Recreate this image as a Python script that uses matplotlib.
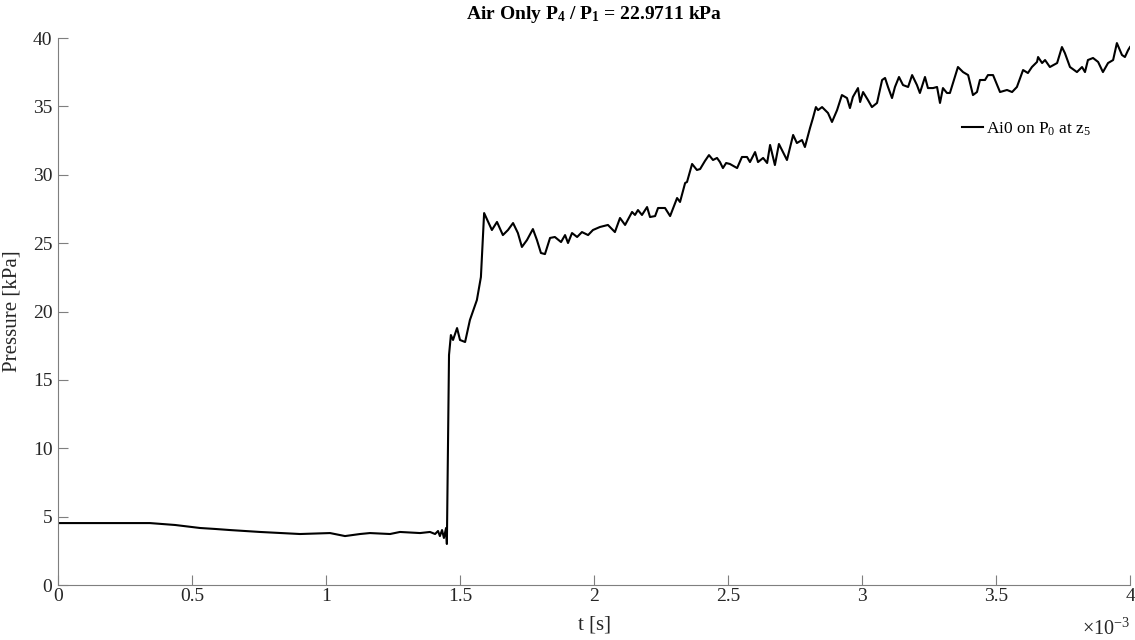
import numpy as np
import matplotlib
matplotlib.use('Agg')
import matplotlib.pyplot as plt

plt.rcParams['font.family'] = ['Liberation Serif', 'DejaVu Serif']
plt.rcParams['mathtext.fontset'] = 'custom'
plt.rcParams['mathtext.rm'] = 'Liberation Serif'
plt.rcParams['mathtext.bf'] = 'Liberation Serif:bold'
plt.rcParams['mathtext.default'] = 'regular'

# time in ms
t_ms = [0.0, 0.231, 0.343, 0.437, 0.530, 0.586, 0.642, 0.754, 0.903, 1.015,
        1.071, 1.127, 1.164, 1.239, 1.276, 1.351, 1.388, 1.407, 1.418, 1.425,
        1.433, 1.440, 1.448, 1.451, 1.459, 1.466, 1.474, 1.489, 1.500, 1.519,
        1.537, 1.563, 1.578, 1.590, 1.619, 1.638, 1.660, 1.679, 1.698, 1.716,
        1.731, 1.750, 1.772, 1.787, 1.802, 1.817, 1.836, 1.854, 1.877, 1.892,
        1.903, 1.918, 1.937, 1.955, 1.978, 1.996, 2.022, 2.052, 2.078, 2.097,
        2.116, 2.142, 2.153, 2.164, 2.179, 2.198, 2.209, 2.228, 2.239, 2.265,
        2.284, 2.310, 2.321, 2.340, 2.347, 2.366, 2.384, 2.396, 2.414, 2.429,
        2.444, 2.459, 2.470, 2.481, 2.493, 2.507, 2.534, 2.552, 2.571, 2.582,
        2.601, 2.612, 2.631, 2.646, 2.657, 2.675, 2.690, 2.720, 2.743, 2.757,
        2.776, 2.787, 2.806, 2.817, 2.828, 2.836, 2.851, 2.862, 2.873, 2.888,
        2.907, 2.925, 2.944, 2.955, 2.966, 2.985, 2.993, 3.004, 3.022, 3.037,
        3.056, 3.075, 3.086, 3.097, 3.112, 3.123, 3.138, 3.153, 3.172, 3.187,
        3.205, 3.216, 3.235, 3.246, 3.265, 3.280, 3.291, 3.302, 3.317, 3.328,
        3.358, 3.377, 3.396, 3.414, 3.429, 3.440, 3.459, 3.470, 3.489, 3.515,
        3.541, 3.560, 3.578, 3.601, 3.619, 3.634, 3.653, 3.657, 3.672, 3.683,
        3.701, 3.728, 3.746, 3.757, 3.776, 3.802, 3.821, 3.832, 3.843, 3.862,
        3.881, 3.899, 3.918, 3.937, 3.951, 3.970, 3.981, 3.993, 4.000]

# pressure in kPa
p_kpa = [4.53, 4.53, 4.53, 4.39, 4.17, 4.10, 4.02, 3.88, 3.73, 3.80,
         3.58, 3.73, 3.80, 3.73, 3.88, 3.80, 3.88, 3.73, 3.95, 3.58,
         4.02, 3.44, 4.17, 3.00, 16.82, 18.28, 17.92, 18.79, 17.92, 17.77,
         19.38, 20.84, 22.52, 27.20, 25.96, 26.55, 25.59, 25.96, 26.47, 25.74,
         24.72, 25.23, 26.03, 25.23, 24.28, 24.20, 25.38, 25.45, 25.08, 25.59,
         25.01, 25.74, 25.45, 25.81, 25.59, 25.96, 26.18, 26.33, 25.81, 26.84,
         26.33, 27.28, 27.06, 27.42, 27.06, 27.64, 26.91, 26.98, 27.57, 27.57,
         26.98, 28.30, 28.01, 29.40, 29.47, 30.79, 30.35, 30.42, 31.01, 31.44,
         31.08, 31.23, 30.93, 30.49, 30.86, 30.79, 30.49, 31.30, 31.30, 30.93,
         31.66, 30.93, 31.23, 30.86, 32.18, 30.71, 32.25, 31.08, 32.91, 32.32,
         32.54, 32.03, 33.42, 34.15, 34.95, 34.73, 34.95, 34.73, 34.52, 33.86,
         34.73, 35.83, 35.61, 34.88, 35.69, 36.34, 35.32, 36.05, 35.47, 34.95,
         35.25, 36.93, 37.08, 36.42, 35.61, 36.42, 37.15, 36.56, 36.42, 37.29,
         36.56, 35.98, 37.15, 36.34, 36.34, 36.42, 35.25, 36.34, 35.98, 35.98,
         37.88, 37.51, 37.29, 35.83, 36.05, 36.93, 36.93, 37.29, 37.29, 36.05,
         36.20, 36.05, 36.42, 37.66, 37.44, 37.88, 38.25, 38.61, 38.17, 38.39,
         37.88, 38.17, 39.34, 38.90, 37.88, 37.51, 37.88, 37.51, 38.39, 38.54,
         38.25, 37.51, 38.17, 38.39, 39.63, 38.76, 38.61, 39.12, 39.34]

xtick_vals = [0, 0.5, 1, 1.5, 2, 2.5, 3, 3.5, 4]
ytick_vals = [0, 5, 10, 15, 20, 25, 30, 35, 40]

t = np.array(t_ms) * 1e-3

fig = plt.figure(figsize=(11.35, 6.4), dpi=100)
ax = fig.add_axes([0.0511, 0.0859, 0.9445, 0.8547])

ax.plot(t, p_kpa, color='black', lw=1.5, label=r'Ai0 on P$_0$ at z$_5$')

ax.set_xlim(0, 4e-3)
ax.set_ylim(0, 40)
ax.set_xticks([v * 1e-3 for v in xtick_vals])
ax.set_xticklabels([f'{v:g}' for v in xtick_vals])
ax.set_yticks(ytick_vals)

gray = '#7f7f7f'
for s in ['top', 'right']:
    ax.spines[s].set_visible(False)
for s in ['left', 'bottom']:
    ax.spines[s].set_color(gray)
    ax.spines[s].set_linewidth(0.8)
ax.tick_params(direction='in', length=7, width=0.8, color=gray,
               labelsize=14, labelcolor='#262626')
ax.tick_params(axis='x', pad=2)
ax.tick_params(axis='y', pad=4)

ax.set_xlabel('t [s]', fontsize=15, color='#262626', labelpad=8)
ax.set_ylabel('Pressure [kPa]', fontsize=15, color='#262626', labelpad=8)
ax.set_title(r'Air Only P$_4$ / P$_1$ = 22.9711 kPa', fontsize=14,
             fontweight='bold', pad=14)

ax.text(1.0, -0.062, r'$\times$10$^{-3}$', transform=ax.transAxes,
        ha='right', va='top', fontsize=14.5, color='#262626')

ax.legend(loc='upper left', bbox_to_anchor=(0.835, 0.865), frameon=False,
          fontsize=12.5, handlelength=1.2, handletextpad=0.2, borderpad=0)

fig.savefig('out.png', dpi=100)
